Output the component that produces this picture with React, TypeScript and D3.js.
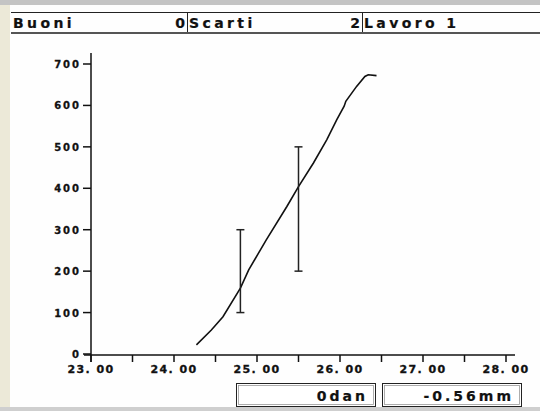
import * as d3 from "d3";

// values
const curveX = [24.27, 24.45, 24.59, 24.8, 24.9, 25.11, 25.36, 25.5, 25.68, 25.84, 25.96, 26.05, 26.07, 26.2, 26.3, 26.34, 26.44];
const curveY = [22, 58, 90, 159, 203, 275, 356, 404, 461, 517, 565, 598, 610, 646, 670, 674, 672];
const errX = [24.8, 25.5];
const errLow = [100, 200];
const errHigh = [300, 500];
const xTicks = [23, 23.5, 24, 24.5, 25, 25.5, 26, 26.5, 27, 27.5, 28];
const yTicks = [0, 100, 200, 300, 400, 500, 600, 700];
const headerCells = [
  { label: "Buoni", value: "0" },
  { label: "Scarti", value: "2" },
  { label: "Lavoro 1", value: "" },
];
const readouts = ["0dan", "-0.56mm"];

const W = 540;
const H = 411;
const font = "'DejaVu Sans', Verdana, sans-serif";

// heavy bitmap look: fill plus a thin stroke of the same colour
const heavy = { fill: "#111", stroke: "#111", fontFamily: font, fontWeight: "bold" };

export default function App() {
  const x = d3.scaleLinear().domain([23, 28]).range([91, 506]);
  const y = d3.scaleLinear().domain([0, 700]).range([354, 64]);

  const pts = curveX.map((v, i) => [v, curveY[i]] as [number, number]);
  const line = d3
    .line<[number, number]>()
    .x((d) => x(d[0]))
    .y((d) => y(d[1]));

  const cellEdges = [11, 187, 362, 540];
  const boxes = [
    [236, 375],
    [382, 521],
  ];

  return (
    <svg
      width={W}
      height={H}
      style={{ position: "absolute", left: 0, top: 0, background: "#fff" }}
    >
      <rect x={0} y={0} width={W} height={H} fill="#fefefe" />
      {/* window chrome */}
      <rect x={0} y={0} width={W} height={5} fill="#c4c4c4" />
      <rect x={0} y={5} width={10} height={H - 5} fill="#ece9d8" />
      <rect x={0} y={407} width={W} height={4} fill="#cfcfcf" />

      {/* header row */}
      <line x1={11} x2={W} y1={12.5} y2={12.5} stroke="#222" strokeWidth={1} />
      <line x1={11} x2={W} y1={33} y2={33} stroke="#555" strokeWidth={2} />
      {headerCells.map((c, i) => (
        <g key={c.label}>
          {i > 0 && (
            <line
              x1={cellEdges[i] + 0.5}
              x2={cellEdges[i] + 0.5}
              y1={12}
              y2={32}
              stroke="#222"
            />
          )}
          <text
            {...heavy}
            x={cellEdges[i] + 2}
            y={28}
            fontSize={14}
            letterSpacing={3.4}
            strokeWidth={0.2}
          >
            {c.label}
          </text>
          {c.value && (
            <text
              {...heavy}
              x={cellEdges[i + 1] - 2}
              y={28}
              textAnchor="end"
              fontSize={14}
              strokeWidth={0.2}
            >
              {c.value}
            </text>
          )}
        </g>
      ))}

      {/* axes */}
      <line x1={91} x2={91} y1={53} y2={362} stroke="#111" strokeWidth={1.5} />
      <line x1={84} x2={515} y1={355} y2={355} stroke="#111" strokeWidth={1.5} />
      {yTicks.map((t) => (
        <g key={t}>
          <line x1={83} x2={91} y1={y(t)} y2={y(t)} stroke="#111" strokeWidth={1.5} />
          <text
            {...heavy}
            x={81}
            y={y(t) + 4}
            textAnchor="end"
            fontSize={10}
            letterSpacing={2}
            strokeWidth={0.3}
          >
            {t}
          </text>
        </g>
      ))}
      {xTicks.map((t) => (
        <g key={t}>
          <line x1={x(t)} x2={x(t)} y1={355} y2={362} stroke="#111" strokeWidth={1.5} />
          {Number.isInteger(t) && (
            <text
              {...heavy}
              x={x(t)}
              y={373}
              textAnchor="middle"
              fontSize={11}
              letterSpacing={1.4}
              strokeWidth={0.3}
            >
              {t.toFixed(2).replace(".", ". ")}
            </text>
          )}
        </g>
      ))}

      {/* curve */}
      <path d={line(pts) ?? ""} fill="none" stroke="#111" strokeWidth={1.6} />

      {/* error bars */}
      {errX.map((v, i) => (
        <g key={v} stroke="#222" strokeWidth={1.5}>
          <line x1={x(v)} x2={x(v)} y1={y(errLow[i])} y2={y(errHigh[i])} />
          <line x1={x(v) - 4} x2={x(v) + 4} y1={y(errLow[i])} y2={y(errLow[i])} />
          <line x1={x(v) - 4} x2={x(v) + 4} y1={y(errHigh[i])} y2={y(errHigh[i])} />
        </g>
      ))}

      {/* readout boxes */}
      {boxes.map(([a, b], i) => (
        <g key={i}>
          <rect x={a + 0.5} y={383.5} width={b - a} height={23} fill="#fff" stroke="#222" strokeWidth={1} />
          <rect x={a + 2.5} y={385.5} width={b - a - 4} height={19} fill="none" stroke="#999" strokeWidth={0.8} />
          <text
            {...heavy}
            x={b - 7}
            y={401}
            textAnchor="end"
            fontSize={14}
            letterSpacing={3}
            strokeWidth={0.2}
          >
            {readouts[i]}
          </text>
        </g>
      ))}
    </svg>
  );
}
